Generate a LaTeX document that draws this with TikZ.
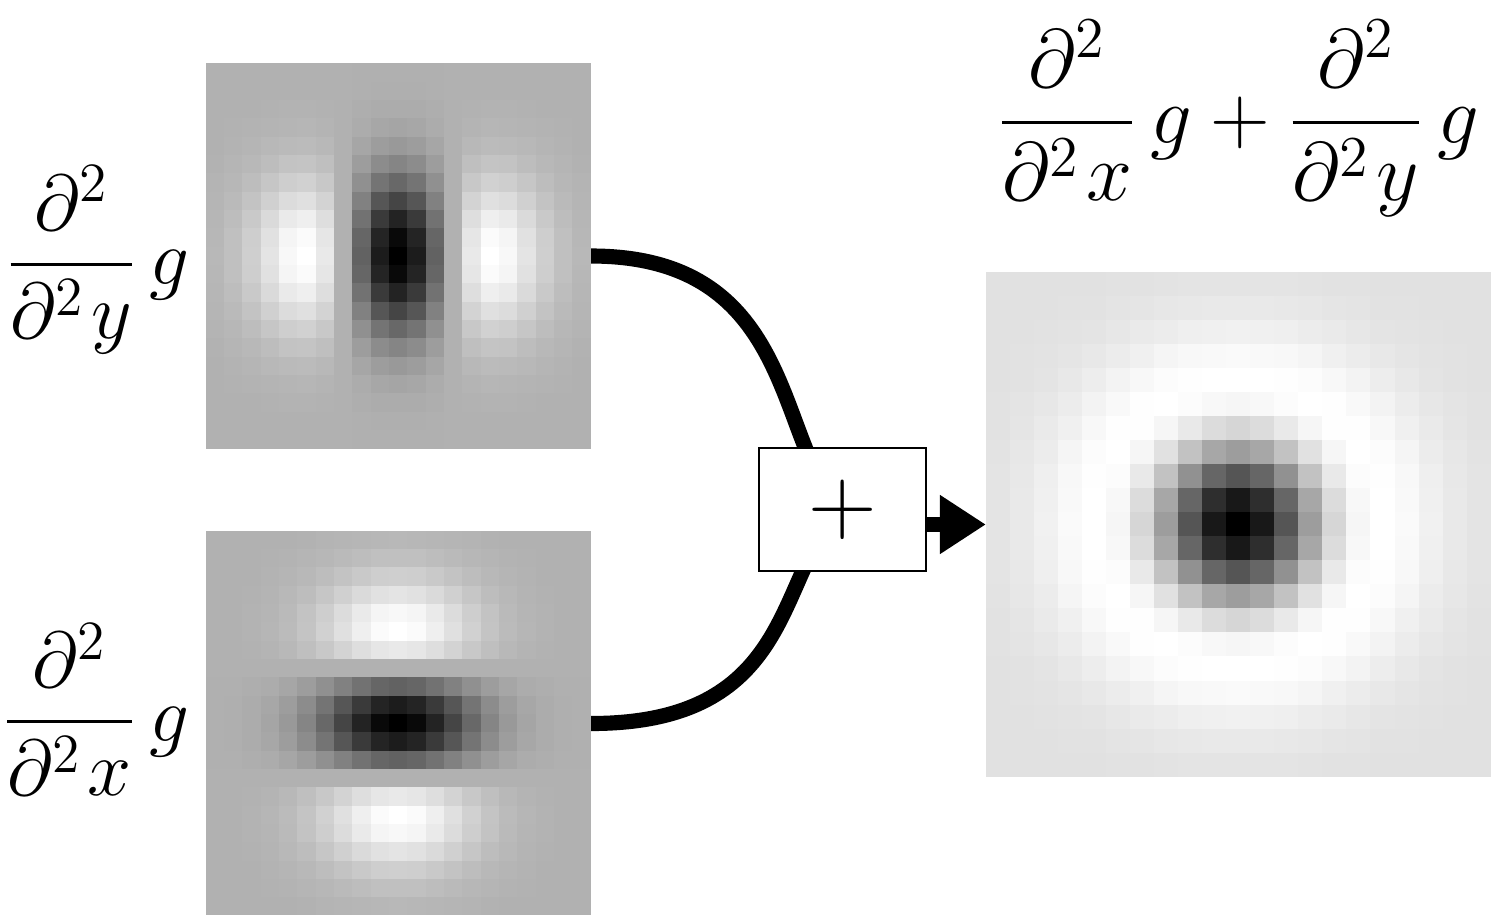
\RequirePackage{fix-cm}
\documentclass[tikz,border=0pt]{standalone}
\usepackage{amsmath}
\usepackage{tikz}
\usetikzlibrary{arrows.meta,positioning,calc}

% #1 node, #2 cell size, #3 value in \i,\j, #4 min value, #5 max value
\newcommand{\pixelmap}[5]{%
  \foreach \i in {-10,...,10}
    \foreach \j in {-10,...,10} {
      \pgfmathsetmacro{\gv}{min(1,max(0,((#3)-(#4))/((#5)-(#4))))}
      \definecolor{cellgray}{gray}{\gv}
      \fill[cellgray] ($(#1.center)+(\i*#2-#2/2-0.3,\j*#2-#2/2-0.3)$) rectangle +(#2+0.6,#2+0.6);
    }
}
\newcommand{\dsec}[1]{\dfrac{\partial^{2}}{\partial^{2}\mkern1.5mu #1}\,g}

\begin{document}
\begin{tikzpicture}[
    x=0.01cm, y=-0.01cm,
    every node/.style={font=\fontsize{23.5}{28}\selectfont},
    imgbox/.style={rectangle, inner sep=0pt, outer sep=0pt},
    lbl/.style={inner sep=0pt},
    sidelbl/.style={lbl, font=\fontsize{22.5}{27}\selectfont},
    sumbox/.style={rectangle, draw, fill=white, line width=0.6pt, inner sep=0pt,
                   minimum width=1.67cm, minimum height=1.23cm, font=\fontsize{27}{32}\selectfont},
    curveline/.style={line width=4.3pt},
    sumarrow/.style={line width=4.3pt, -{Triangle[length=0.46cm,width=0.56cm]}}
]
\useasboundingbox (0,0) rectangle (1496,914);

\node[imgbox, minimum size=3.85cm] (dyy) at (398.5,256) {};
\node[imgbox, minimum size=3.85cm] (dxx) at (398.5,723.5) {};
\node[imgbox, minimum size=5.05cm] (log) at (1238.5,524.5) {};

\pixelmap{dyy}{18.33}{((\i)*(\i)/9-1)*exp(-((\i)*(\i)+(\j)*(\j))/18)}{-1}{0.4433}
\pixelmap{dxx}{18.33}{((\j)*(\j)/9-1)*exp(-((\i)*(\i)+(\j)*(\j))/18)}{-1}{0.4433}
\pixelmap{log}{24.05}{(((\i)*(\i)+(\j)*(\j))/9-2)*exp(-((\i)*(\i)+(\j)*(\j))/18)}{-2}{0.2707}

\node[sidelbl, left=0.16cm of dyy, yshift=-0.04cm] (dyylbl) {$\dsec{y}$};
\node[sidelbl, left=0.16cm of dxx, yshift=0.14cm] (dxxlbl) {$\dsec{x}$};
\node[lbl, above=0.55cm of log] (loglbl) {$\dsec{x}+\dsec{y}$};

\coordinate (sumc) at (842.5,509.5);
\draw[curveline] (dyy.east) .. controls +(209,0) and +(-67.5,-59.5) .. (sumc);
\draw[curveline] (dxx.east) .. controls +(209,0) and +(-67.5,59.5) .. (sumc);
\node[sumbox] (plus) at (sumc) {$+$};

\draw[sumarrow] (plus.east |- log.west) -- (log.west);

\end{tikzpicture}
\end{document}
